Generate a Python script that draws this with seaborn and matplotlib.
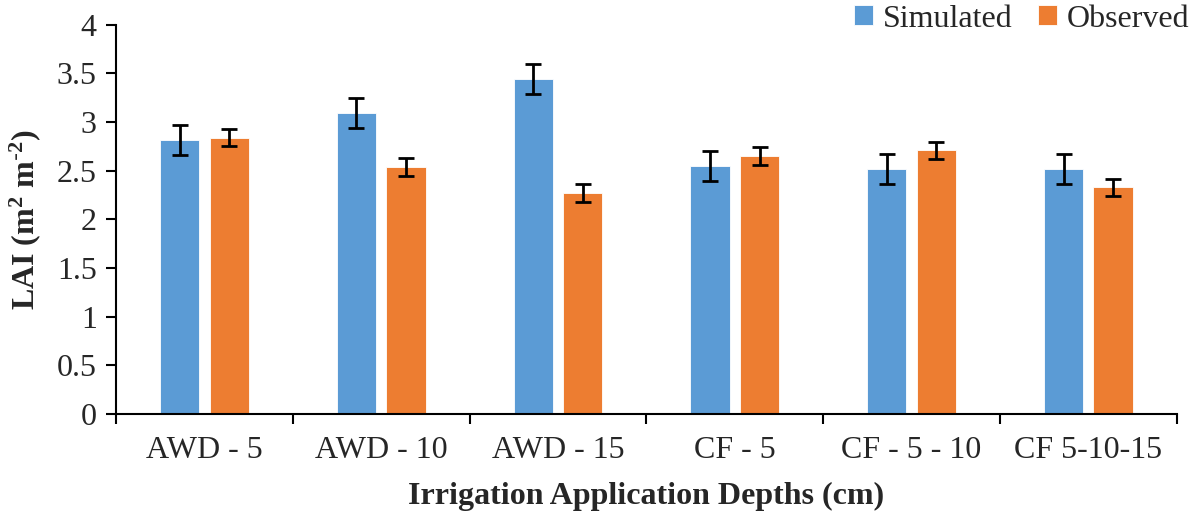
import matplotlib.pyplot as plt
import seaborn as sns
import pandas as pd
from matplotlib.ticker import FixedLocator

# values
depths = ['AWD - 5', 'AWD - 10', 'AWD - 15', 'CF - 5', 'CF - 5 - 10', 'CF 5-10-15']
simulated = [2.82, 3.09, 3.44, 2.55, 2.52, 2.52]
observed = [2.84, 2.54, 2.27, 2.65, 2.71, 2.33]
sim_err = [0.155, 0.155, 0.155, 0.155, 0.155, 0.155]
obs_err = [0.09, 0.09, 0.09, 0.09, 0.09, 0.09]

df = pd.DataFrame({'Depth': depths, 'Simulated': simulated, 'Observed': observed})
df_long = df.melt('Depth', var_name='Series', value_name='LAI')

sns.set_style("white")
plt.rcParams['font.family'] = ['Liberation Serif', 'DejaVu Serif']
plt.rcParams['mathtext.default'] = 'regular'

fig = plt.figure(figsize=(11.97, 5.18), dpi=100)
ax = fig.add_axes([0.097, 0.201, 0.886, 0.751])

palette = {'Simulated': '#5B9BD5', 'Observed': '#ED7D31'}
sns.barplot(data=df_long, x='Depth', y='LAI', hue='Series', palette=palette,
            width=0.56, gap=0.21, saturation=1, errorbar=None, ax=ax,
            edgecolor='white', linewidth=0.6)

# error bars on top of each bar (sim patches first, then obs)
errs = sim_err + obs_err
for patch, err in zip(ax.patches[:len(errs)], errs):
    cx = patch.get_x() + patch.get_width() / 2
    ax.errorbar(cx, patch.get_height(), yerr=err, color='black',
                capsize=6, capthick=2, elinewidth=2, fmt='none')

ax.set_ylim(0, 4)
ax.set_xlim(-0.5, len(depths) - 0.5)
ax.set_yticks([0, 0.5, 1, 1.5, 2, 2.5, 3, 3.5, 4])
ax.set_yticklabels(['0', '0.5', '1', '1.5', '2', '2.5', '3', '3.5', '4'])
ax.xaxis.set_minor_locator(FixedLocator([i - 0.5 for i in range(len(depths) + 1)]))
ax.tick_params(axis='x', which='major', bottom=True, length=0, pad=16, labelsize=23)
ax.tick_params(axis='x', which='minor', bottom=True, length=7, width=1.5,
               direction='out', color='black')
ax.tick_params(axis='y', left=True, length=7, width=1.5, direction='out',
               color='black', pad=7, labelsize=23)

for s in ['top', 'right']:
    ax.spines[s].set_visible(False)
for s in ['left', 'bottom']:
    ax.spines[s].set_color('black')
    ax.spines[s].set_linewidth(1.5)

ax.set_xlabel('Irrigation Application Depths (cm)', fontsize=23, fontweight='bold', labelpad=12)
ax.set_ylabel(r'LAI (m$^{2}$ m$^{\text{-}2}$)', fontsize=23, fontweight='bold', labelpad=10)

ax.legend(title=None, loc='upper right', bbox_to_anchor=(1.024, 1.085), ncol=2,
          frameon=False, fontsize=23, handlelength=0.6, handleheight=0.6,
          handletextpad=0.3, columnspacing=0.8, borderaxespad=0)

plt.savefig('out.png', dpi=100)
